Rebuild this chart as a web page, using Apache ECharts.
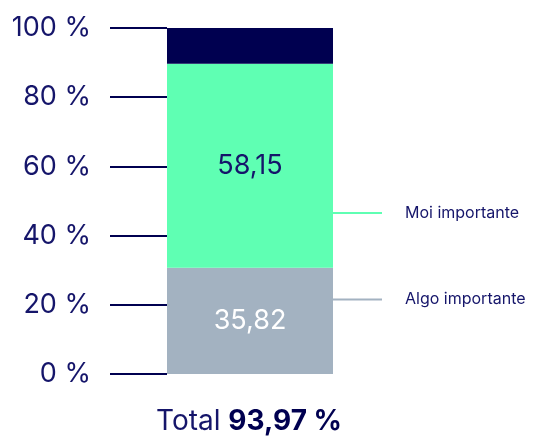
<!DOCTYPE html>
<html>
<head>
<meta charset="utf-8">
<script src="https://cdn.jsdelivr.net/npm/echarts@6/dist/echarts.min.js"></script>
<style>
  html, body { margin: 0; padding: 0; background: #fff; }
  #chart { width: 536px; height: 437px; }
</style>
</head>
<body>
<div id="chart"></div>
<script>
var categories = ['Total'];
var seriesNames = ['Algo importante', 'Moi importante', 'Resto'];
// heights as drawn in the picture
var algoValues = [30.7];
var moiValues = [59.0];
var restoValues = [10.3];
// printed labels
var segmentLabels = ['35,82', '58,15', ''];
var totalText = '93,97 %';
var yTicks = [0, 20, 40, 60, 80, 100];

var NAVY = '#000050', TEXT = '#15156a';
var FONT = 'Inter, "Noto Sans", sans-serif';

var chart = echarts.init(document.getElementById('chart'));

function seg(name, data, color, labelText, labelColor) {
    return {
        name: name,
        type: 'bar',
        stack: 'total',
        barWidth: '100%',
        data: data,
        itemStyle: { color: color },
        label: {
            show: labelText !== '',
            position: 'inside',
            formatter: function () { return labelText; },
            color: labelColor,
            fontSize: 27,
            fontFamily: FONT
        },
        silent: true
    };
}

var option = {
    animation: false,
    grid: { left: 167, right: 203, top: 28, bottom: 63 },
    xAxis: {
        type: 'category',
        data: categories,
        show: false
    },
    yAxis: {
        type: 'value',
        min: yTicks[0],
        max: yTicks[yTicks.length - 1],
        interval: 20,
        axisLine: { show: false },
        splitLine: { show: false },
        axisTick: {
            show: true,
            inside: false,
            length: 57,
            lineStyle: { color: NAVY, width: 2 }
        },
        axisLabel: {
            margin: 76,
            formatter: '{value} %',
            color: TEXT,
            fontSize: 27,
            fontFamily: FONT
        }
    },
    series: [
        seg(seriesNames[0], algoValues, '#a3b2c1', segmentLabels[0], '#ffffff'),
        seg(seriesNames[1], moiValues, '#5fffb3', segmentLabels[1], TEXT),
        seg(seriesNames[2], restoValues, NAVY, segmentLabels[2], '#fff')
    ]
};
chart.setOption(option);

// annotations on the right of the bar
var notes = [
    { name: seriesNames[1], level: 46.5, color: '#5fffb3' },
    { name: seriesNames[0], level: 21.5, color: '#a3b2c1' }
];
var graphics = [];
notes.forEach(function (n) {
    var y = chart.convertToPixel({ yAxisIndex: 0 }, n.level);
    graphics.push({
        type: 'line',
        shape: { x1: 333, y1: y, x2: 382, y2: y },
        style: { stroke: n.color, lineWidth: 2 }
    });
    graphics.push({
        type: 'text',
        x: 405, y: y,
        style: {
            text: n.name,
            fill: TEXT,
            font: '16px ' + FONT,
            verticalAlign: 'middle'
        }
    });
});
graphics.push({
    type: 'text',
    x: 249, y: 422,
    style: {
        text: '{a|Total }{b|' + totalText + '}',
        align: 'center',
        verticalAlign: 'middle',
        rich: {
            a: { fontSize: 28, fontFamily: FONT, fill: TEXT, color: TEXT },
            b: { fontSize: 28, fontFamily: FONT, fontWeight: 'bold', fill: NAVY, color: NAVY }
        }
    }
});
chart.setOption({ graphic: graphics });
</script>
</body>
</html>
